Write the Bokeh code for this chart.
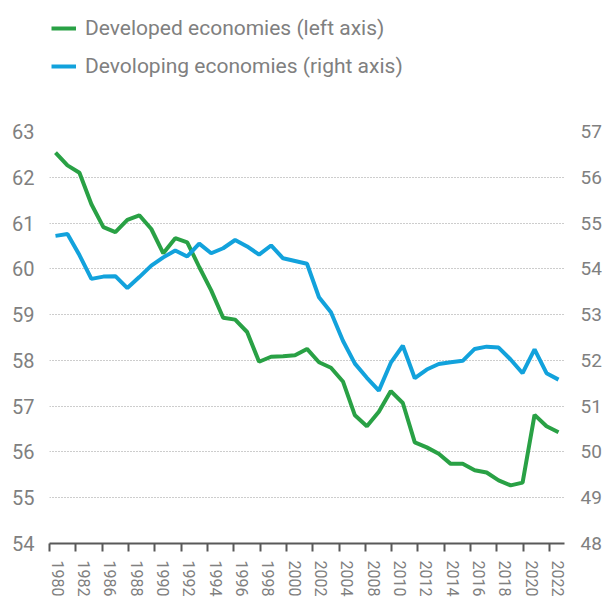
from bokeh.plotting import figure
from bokeh.layouts import column
from bokeh.models import (Range1d, LinearAxis, FixedTicker, Legend, LegendItem,
                          CustomJSTickFormatter, ColumnDataSource)
from bokeh.embed import file_html
from bokeh.resources import INLINE

# ---------------- data ----------------
years = list(range(1980, 2023))
developed = [62.54, 62.26, 62.10, 61.41, 60.91, 60.80, 61.07, 61.17, 60.87, 60.34,
             60.67, 60.58, 60.04, 59.53, 58.93, 58.89, 58.62, 57.97, 58.08, 58.09,
             58.11, 58.25, 57.96, 57.84, 57.54, 56.80, 56.56, 56.88, 57.33, 57.07,
             56.21, 56.10, 55.96, 55.74, 55.74, 55.60, 55.55, 55.38, 55.27, 55.33,
             56.81, 56.56, 56.43]
developing = [54.72, 54.76, 54.30, 53.78, 53.83, 53.84, 53.58, 53.82, 54.07, 54.25,
              54.40, 54.27, 54.55, 54.34, 54.45, 54.63, 54.49, 54.31, 54.51, 54.23,
              54.17, 54.11, 53.38, 53.05, 52.43, 51.93, 51.62, 51.34, 51.95, 52.32,
              51.61, 51.80, 51.92, 51.96, 51.99, 52.25, 52.30, 52.28, 52.02, 51.72,
              52.24, 51.72, 51.58]
x_labels = ["1980", "1982", "1986", "1988", "1990", "1992", "1994", "1996", "1998",
            "2000", "2002", "2004", "2008", "2010", "2012", "2014", "2016", "2018",
            "2020", "2022"]
left_ticks = list(range(54, 64))
right_ticks = list(range(48, 58))
series_names = ["Developed economies (left axis)", "Devoloping economies (right axis)"]

# ---------------- style ----------------
FONT = "Roboto"
GREY = "#808080"
AXIS = "#595959"
GREEN = "#29a145"
BLUE = "#12a2dc"
W = 604
TOP_H = 100

src = ColumnDataSource(dict(year=years, dev=developed, devg=developing))

# ---------------- legend strip ----------------
# the series are drawn here too, but fall outside this strip's ranges; only
# their legend entries are visible.
leg = figure(width=W, height=TOP_H, output_backend="svg", toolbar_location=None,
             x_range=Range1d(0, W), y_range=Range1d(0, TOP_H),
             min_border=0, min_border_left=0, min_border_right=0,
             min_border_top=0, min_border_bottom=0,
             x_axis_location=None, y_axis_location=None)
leg.outline_line_color = None
leg.grid.visible = False
k1 = leg.line("year", "dev", source=src, line_color=GREEN, line_width=4)
k2 = leg.line("year", "devg", source=src, line_color=BLUE, line_width=4)
legend = Legend(items=[LegendItem(label=series_names[0], renderers=[k1]),
                       LegendItem(label=series_names[1], renderers=[k2])],
                location=(2, 22), orientation="vertical",
                padding=0, margin=0, spacing=14,
                glyph_width=25, glyph_height=20, label_height=20,
                label_standoff=9, label_text_font=FONT,
                label_text_font_size="21px", label_text_color=GREY,
                border_line_color=None, background_fill_alpha=0)
leg.add_layout(legend)

# ---------------- main chart ----------------
p = figure(width=W, height=599 - TOP_H, output_backend="svg", toolbar_location=None,
           x_range=Range1d(1979.5, 2022.5), y_range=Range1d(54, 63),
           min_border_left=49, min_border_right=39, min_border_top=131 - TOP_H,
           min_border_bottom=56)
p.extra_y_ranges = {"right": Range1d(48, 57)}
p.outline_line_color = None

# grid
p.xgrid.visible = False
p.ygrid.ticker = FixedTicker(ticks=left_ticks)
p.ygrid.grid_line_color = "#9a9a9a"
p.ygrid.grid_line_dash = "1 2"
p.ygrid.grid_line_width = 1

# left axis
yl = p.yaxis[0]
yl.ticker = FixedTicker(ticks=left_ticks)
yl.axis_line_color = None
yl.major_tick_line_color = None
yl.minor_tick_line_color = None
yl.major_tick_out = 0
yl.major_label_standoff = 15
yl.major_label_text_font = FONT
yl.major_label_text_font_size = "20px"
yl.major_label_text_color = GREY

# right axis
yr = LinearAxis(y_range_name="right", ticker=FixedTicker(ticks=right_ticks))
yr.axis_line_color = None
yr.major_tick_line_color = None
yr.minor_tick_line_color = None
yr.major_tick_out = 0
yr.major_label_standoff = 16
yr.major_label_text_font = FONT
yr.major_label_text_font_size = "19px"
yr.major_label_text_color = GREY
p.add_layout(yr, "right")

# bottom axis: category-style ticks with labels between them
n_lab = len(x_labels)
tick_step = 2.1975
tick_pos = [1979.5 + k * tick_step for k in range(n_lab)]
label_pos = [t + 0.69 for t in tick_pos]
xa = p.xaxis[0]
xa.ticker = FixedTicker(ticks=label_pos, minor_ticks=tick_pos)
xa.formatter = CustomJSTickFormatter(
    args=dict(labels=x_labels, start=label_pos[0], step=tick_step),
    code="const i = Math.round((tick - start) / step);"
         "return (i >= 0 && i < labels.length) ? labels[i] : '';")
xa.axis_line_color = AXIS
xa.axis_line_width = 2
xa.major_tick_line_color = None
xa.major_tick_out = 0
xa.major_tick_in = 0
xa.minor_tick_line_color = AXIS
xa.minor_tick_line_width = 2
xa.minor_tick_out = 8
xa.minor_tick_in = 0
xa.major_label_orientation = "vertical"
xa.major_label_standoff = 9
xa.major_label_text_font = FONT
xa.major_label_text_font_size = "16px"
xa.major_label_text_color = GREY

# lines
p.line("year", "dev", source=src, line_color=GREEN, line_width=4)
p.line("year", "devg", source=src, line_color=BLUE, line_width=4,
       y_range_name="right")

layout = column(leg, p, spacing=0)
open("out.html", "w").write(file_html(layout, INLINE))
